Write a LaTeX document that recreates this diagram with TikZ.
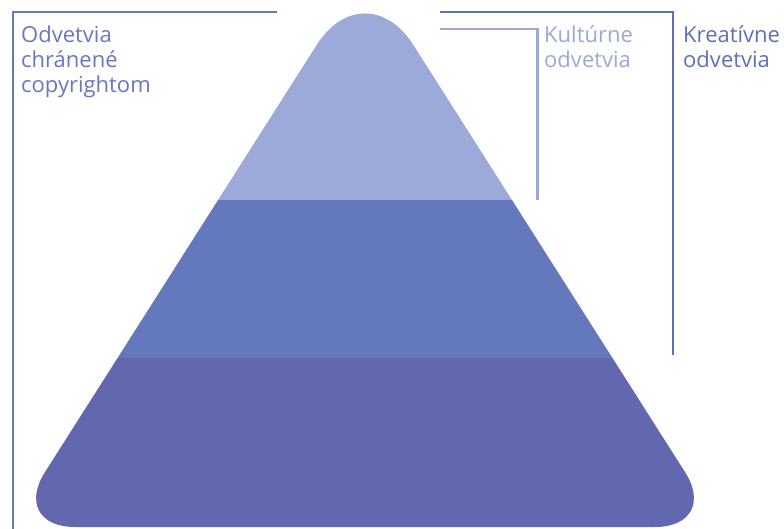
\documentclass[tikz,border=0pt]{standalone}
\usepackage{fontspec}
\setmainfont{Open Sans}
\definecolor{toplayer}{HTML}{9DAAD9}
\definecolor{midlayer}{HTML}{6478BE}
\definecolor{botlayer}{HTML}{6267B0}
\definecolor{copyc}{HTML}{6B76C0}
\definecolor{kultc}{HTML}{9BA8D8}
\definecolor{kreac}{HTML}{5F6FBA}
\tikzset{
  bracket/.style={line width=2.4pt},
  label/.style={anchor=base west, align=left, inner sep=0pt, font=\fontsize{22}{25}\selectfont},
}
\begin{document}
\begin{tikzpicture}[x=1pt,y=-1pt]
\useasboundingbox (0,0) rectangle (784,529);
% pyramid
\def\pyr{(75,527) .. controls (39.1,527) and (25.6,502.4) .. (44.9,472.2) -- (316.7,44.9) .. controls (343.4,3.0) and (386.6,3.0) .. (413.3,44.9) -- (685.1,472.2) .. controls (704.4,502.4) and (690.9,527) .. (655,527) -- cycle}
\begin{scope}
\clip \pyr;
\fill[toplayer] (0,0) rectangle (784,200);
\fill[midlayer] (0,200) rectangle (784,357.5);
\fill[botlayer] (0,357.5) rectangle (784,529);
\end{scope}
% brackets
\coordinate (cpA) at (277,12);
\coordinate (cpB) at (13,529);
\coordinate (krA) at (440,12);
\coordinate (krB) at (673,355);
\coordinate (kuA) at (440,29);
\coordinate (kuB) at (537.5,200);
\draw[bracket, copyc] (cpA) -| (cpB);
\draw[bracket, kreac] (krA) -| (krB);
\draw[bracket, kultc] (kuA) -| (kuB);
% labels
\node[label, text=copyc] (copy) at (21,93) {Odvetvia\\chránené\\copyrightom};
\node[label, text=kultc] (kult) at (544,68) {Kultúrne\\odvetvia};
\node[label, text=kreac] (krea) at (683,68) {Kreatívne\\odvetvia};
\end{tikzpicture}
\end{document}
